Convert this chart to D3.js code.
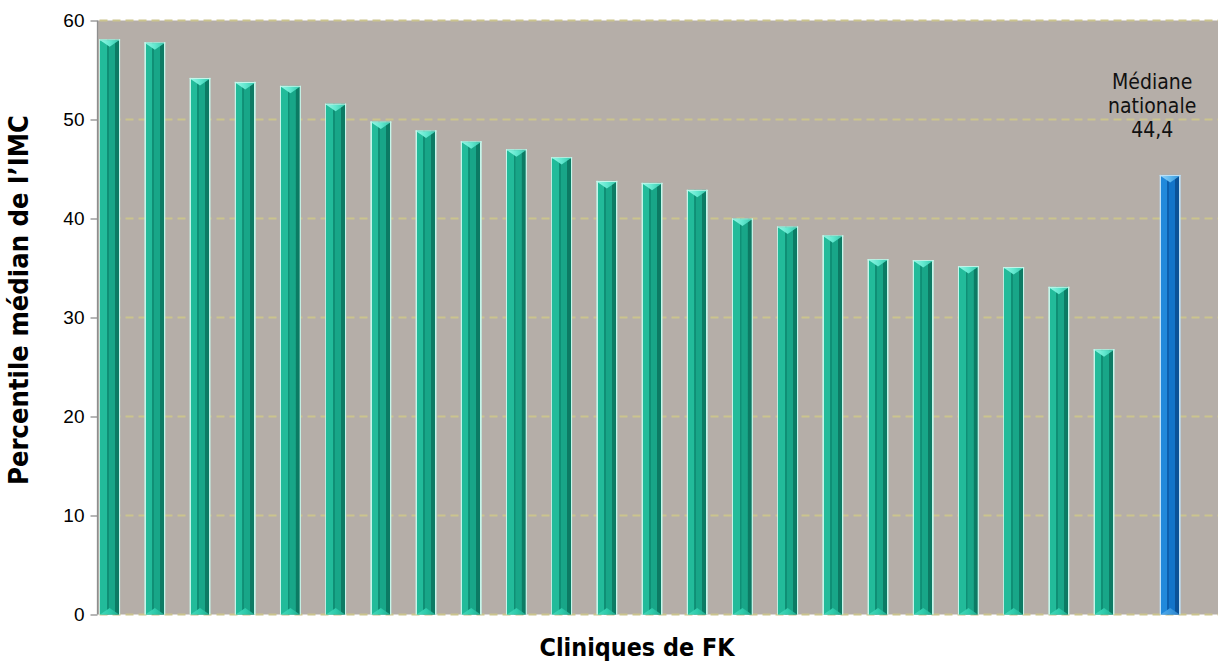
<!DOCTYPE html>
<html>
<head>
<meta charset="utf-8">
<script src="https://cdn.jsdelivr.net/npm/d3@7"></script>
<style>
  html, body { margin: 0; padding: 0; background: #ffffff; }
  svg { display: block; }
</style>
</head>
<body>
<svg id="chart" width="1218" height="669"></svg>
<script>
// Median BMI percentile per CF clinic, sorted descending, plus the national median
const clinics = d3.range(1, 24).map(i => "Clinique " + i);
const clinicValues = [58.1, 57.8, 54.2, 53.8, 53.4, 51.6, 49.8, 48.9, 47.8, 47.0, 46.2,
                      43.8, 43.6, 42.9, 40.0, 39.2, 38.3, 35.9, 35.8, 35.2, 35.1, 33.1, 26.8];
const nationalLabel = ["Médiane", "nationale", "44,4"];
const nationalValue = 44.4;
const yTicks = [0, 10, 20, 30, 40, 50, 60];
const yTitle = "Percentile médian de l\u2019IMC";
const xTitle = "Cliniques de FK";

const W = 1218, H = 669;
const plot = { left: 97.5, top: 20.5, bottom: 614.5 };
const step = 45.2;

// Category slots: 23 clinics, the national median, then a trailing slot
const slots = clinics.concat(["Nationale", "_fin"]);
const x = d3.scaleBand().domain(slots)
  .range([plot.left, plot.left + slots.length * step]).padding(0);
// Two series per category: clinics sit on the left, the national median on the right
const inner = d3.scaleBand().domain(["clinique", "nationale"])
  .range([0, step]).paddingInner(0).paddingOuter(0.08);
const y = d3.scaleLinear().domain([0, 60]).range([plot.bottom, plot.top]);

const svg = d3.select("#chart");
const defs = svg.append("defs");

function hGradient(id, stops) {
  const g = defs.append("linearGradient").attr("id", id)
    .attr("x1", 0).attr("x2", 1).attr("y1", 0).attr("y2", 0);
  stops.forEach(([o, col]) => g.append("stop").attr("offset", o).attr("stop-color", col));
}
function bodyGradient(id, c) {
  hGradient(id, [
    [0, c.edge], [0.055, c.edge], [0.056, c.light], [0.36, c.light],
    [0.37, c.mid2], [0.45, c.mid2], [0.46, c.mid], [0.74, c.mid],
    [0.75, c.dark], [0.93, c.dark], [0.94, c.edge], [1, c.edge]
  ]);
}

const teal = { edge: "#c4f6ea", light: "#22bb9a", mid2: "#0f8f75", mid: "#18a688",
               dark: "#0c7b64", capL: "#95f7e6", capM: "#62e8cf", capR: "#38c9ad",
               botL: "#44d9bb", botM: "#2ecbab", botR: "#1fab8f" };
const blue = { edge: "#bde0f7", light: "#2189db", mid2: "#0c5fae", mid: "#1274c9",
               dark: "#0a5298", capL: "#95d3f8", capM: "#5eb8ef", capR: "#3897d9",
               botL: "#52abeb", botM: "#3b99df", botR: "#2a80c5" };
bodyGradient("bodyTeal", teal);
bodyGradient("bodyBlue", blue);
hGradient("capTeal", [[0, teal.capL], [0.5, teal.capM], [1, teal.capR]]);
hGradient("capBlue", [[0, blue.capL], [0.5, blue.capM], [1, blue.capR]]);
hGradient("botTeal", [[0, teal.botL], [0.5, teal.botM], [1, teal.botR]]);
hGradient("botBlue", [[0, blue.botL], [0.5, blue.botM], [1, blue.botR]]);

// Plot background
svg.append("rect")
  .attr("x", plot.left).attr("y", plot.top)
  .attr("width", W - plot.left).attr("height", plot.bottom - plot.top)
  .attr("fill", "#b5aea8");

// Dashed horizontal gridlines
svg.append("g").selectAll("line").data(yTicks).join("line")
  .attr("x1", plot.left + 2).attr("x2", W)
  .attr("y1", d => y(d)).attr("y2", d => y(d))
  .attr("stroke", "#cbc48d").attr("stroke-width", 2)
  .attr("stroke-dasharray", "8,5");

// Bevelled bar: body strips, pyramid cap on top and at the base
function drawBar(g, x0, w, v, colors, bodyId, capId, botId) {
  const top = y(v), bot = y(0);
  const cap = 6.5;
  g.append("rect").attr("x", x0).attr("y", top).attr("width", w).attr("height", bot - top)
    .attr("fill", `url(#${bodyId})`);
  g.append("rect").attr("x", x0).attr("y", top).attr("width", w).attr("height", 1.2)
    .attr("fill", colors.edge);
  g.append("path")
    .attr("d", `M${x0 + 1},${top + 1} L${x0 + w - 1},${top + 1} L${x0 + w / 2},${top + 1 + cap} Z`)
    .attr("fill", `url(#${capId})`);
  g.append("path")
    .attr("d", `M${x0 + 1},${bot} L${x0 + w - 1},${bot} L${x0 + w / 2},${bot - cap} Z`)
    .attr("fill", `url(#${botId})`);
}

const bars = svg.append("g");
clinics.forEach((c, i) => {
  drawBar(bars, x(c) + inner("clinique"), inner.bandwidth(), clinicValues[i],
          teal, "bodyTeal", "capTeal", "botTeal");
});
drawBar(bars, x("Nationale") + inner("nationale"), inner.bandwidth(), nationalValue,
        blue, "bodyBlue", "capBlue", "botBlue");

// Y axis: line, ticks and labels
const axisG = svg.append("g").attr("transform", `translate(${plot.left},0)`)
  .call(d3.axisLeft(y).tickValues(yTicks).tickSize(7).tickPadding(6).tickFormat(d3.format("d")));
axisG.select(".domain").attr("stroke", "#8e8e8e").attr("stroke-width", 1.3)
  .attr("d", `M0,${y(60)}V${y(0)}`);
axisG.selectAll(".tick line").attr("stroke", "#8e8e8e").attr("stroke-width", 1.3);
axisG.selectAll(".tick text")
  .attr("font-family", "'Liberation Sans', Arial, sans-serif")
  .attr("font-size", 19).attr("fill", "#000");

// Fit a text element's font size so it spans a given width
function fitWidth(sel, target) {
  const n = sel.node();
  const fs = parseFloat(sel.attr("font-size"));
  const len = n.getComputedTextLength();
  sel.attr("font-size", (fs * target / len).toFixed(2));
}

// National median label, centred over its category slot
const labX = x("Nationale") + step / 3;
const lab = svg.append("text")
  .attr("font-family", "'DejaVu Sans Condensed', 'DejaVu Sans', sans-serif")
  .attr("font-size", 21).attr("fill", "#111")
  .attr("text-anchor", "middle");
nationalLabel.forEach((t, i) => {
  lab.append("tspan").attr("x", labX).attr("y", 89 + i * 24).text(t);
});

// Axis titles
const yt = svg.append("text")
  .attr("transform", `translate(28,300) rotate(-90)`)
  .attr("text-anchor", "middle")
  .attr("font-family", "'DejaVu Sans Condensed', 'DejaVu Sans', sans-serif").attr("font-weight", "bold")
  .attr("font-size", 20).attr("fill", "#000")
  .text(yTitle);
fitWidth(yt, 370);
const xt = svg.append("text")
  .attr("x", 637).attr("y", 656)
  .attr("text-anchor", "middle")
  .attr("font-family", "'DejaVu Sans Condensed', 'DejaVu Sans', sans-serif").attr("font-weight", "bold")
  .attr("font-size", 20).attr("fill", "#000")
  .text(xTitle);
fitWidth(xt, 195);
</script>
</body>
</html>
